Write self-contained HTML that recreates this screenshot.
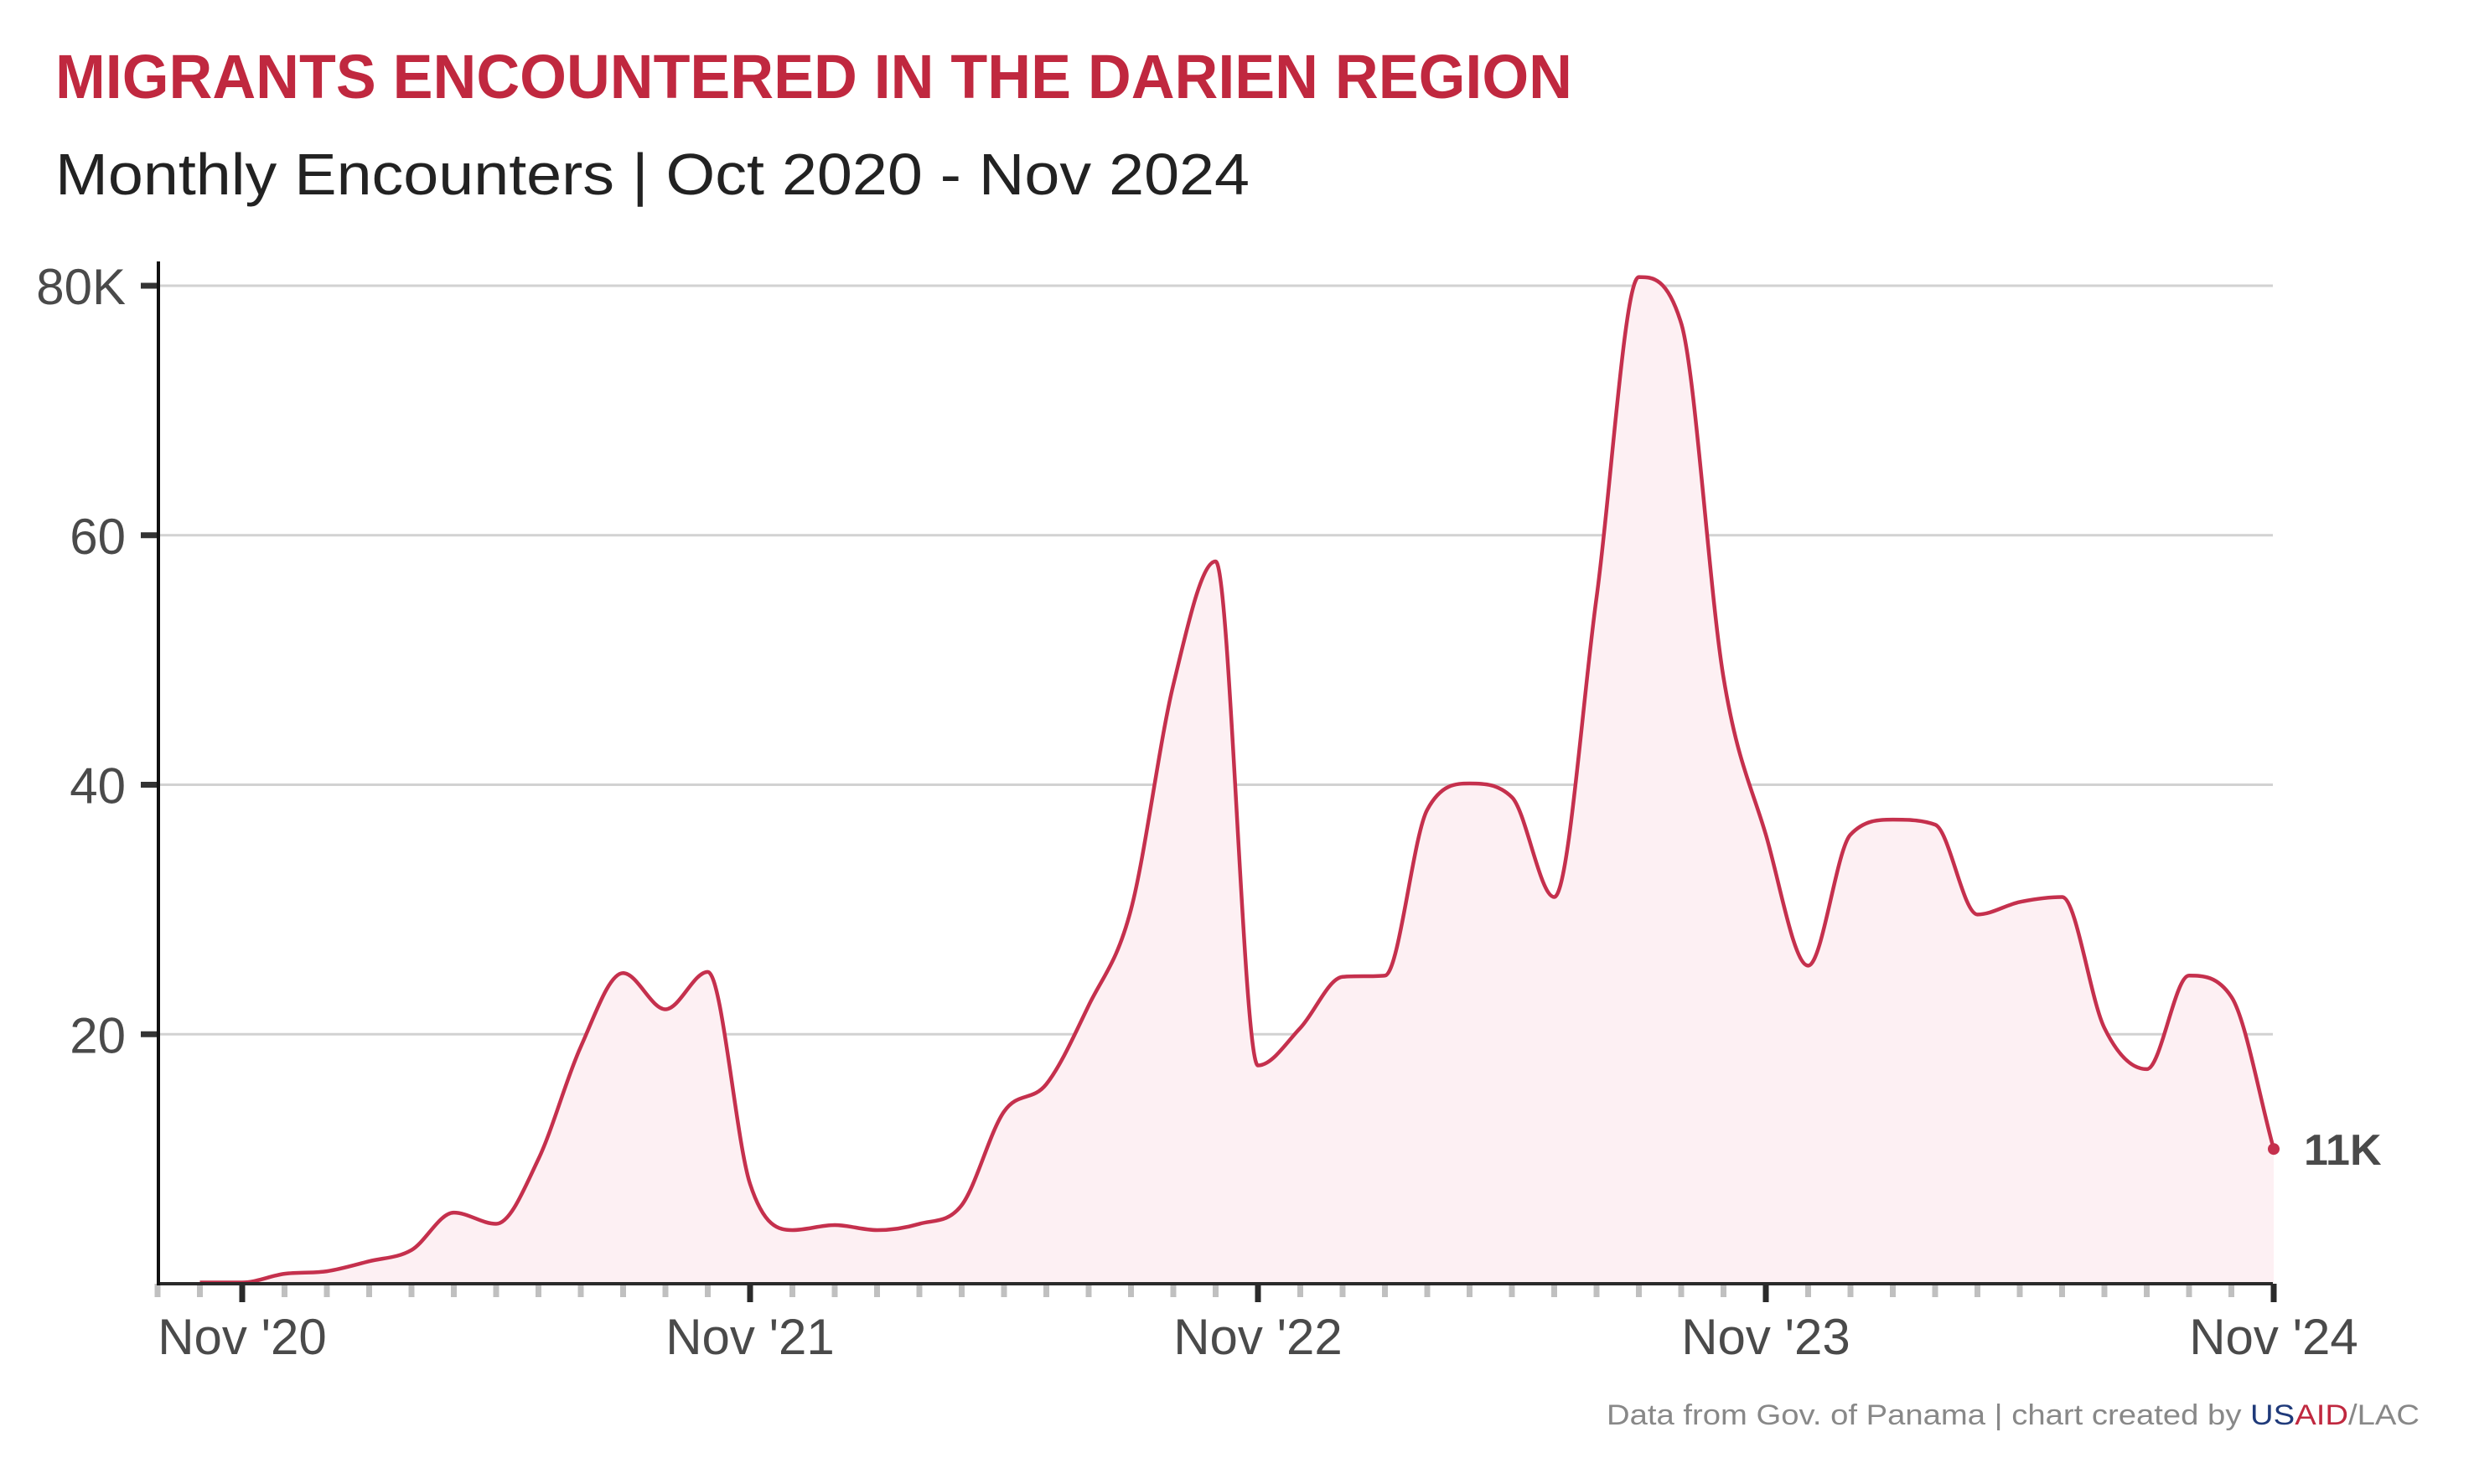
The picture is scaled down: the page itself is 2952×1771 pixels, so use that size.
<!DOCTYPE html>
<html><head><meta charset="utf-8"><style>
html,body{margin:0;padding:0;background:#fff;}
svg{display:block;font-family:"Liberation Sans",sans-serif;}
</style></head><body>
<svg id="chart" width="2952" height="1771" viewBox="0 0 2952 1771" xmlns="http://www.w3.org/2000/svg">
<text x="66" y="117" font-size="74" font-weight="bold" fill="#c0283f" textLength="1810" lengthAdjust="spacingAndGlyphs">MIGRANTS ENCOUNTERED IN THE DARIEN REGION</text>
<text x="66" y="232" font-size="70" fill="#222" textLength="1425" lengthAdjust="spacingAndGlyphs">Monthly Encounters | Oct 2020 - Nov 2024</text>
<g id="grid"></g>
<path id="area" fill="#fdf0f3" stroke="none"></path>
<path id="line" fill="none" stroke="#c5304d" stroke-width="4.5" stroke-linejoin="round"></path>
<g id="yticks"></g>
<g id="xaxis"></g>
<line x1="189" y1="312" x2="189" y2="1534" stroke="#111" stroke-width="4"/>
<circle id="enddot" r="7" fill="#c5304d"></circle>
<text id="endlabel" font-size="52" font-weight="bold" fill="#4a4a4a"></text>
<text x="2887" y="1700" text-anchor="end" font-size="34" fill="#888" textLength="970" lengthAdjust="spacingAndGlyphs">Data from Gov. of Panama | chart created by <tspan fill="#1f3a7a">US</tspan><tspan fill="#c0283f">AID</tspan>/LAC</text>
</svg>
<script>
const months = ["Oct20","Nov20","Dec20","Jan21","Feb21","Mar21","Apr21","May21","Jun21","Jul21","Aug21","Sep21","Oct21","Nov21","Dec21","Jan22","Feb22","Mar22","Apr22","May22","Jun22","Jul22","Aug22","Sep22","Oct22","Nov22","Dec22","Jan23","Feb23","Mar23","Apr23","May23","Jun23","Jul23","Aug23","Sep23","Oct23","Nov23","Dec23","Jan24","Feb24","Mar24","Apr24","May24","Jun24","Jul24","Aug24","Sep24","Oct24","Nov24"];
const encounters = [0.1,0.1,0.8,1.0,1.8,2.7,5.7,4.8,10.0,19.0,24.9,22.0,25.0,8.0,4.3,4.7,4.3,4.8,6.3,13.8,16.0,22.3,30.0,48.0,57.9,17.5,20.5,24.6,24.7,38.0,40.1,39.0,31.0,55.0,80.7,77.0,48.6,36.0,25.5,36.0,37.2,36.8,29.6,30.6,31.0,20.5,17.2,24.7,23.0,10.8];
const yTicks = [20,40,60,80];
const yTickLabels = ["20","40","60","80K"];
const xTickLabels = ["Nov '20","Nov '21","Nov '22","Nov '23","Nov '24"];
const endLabel = "11K";

const X0 = 238.5, MW = 50.5, Y0 = 1532, YPX = 297.75/20;
const xs = i => X0 + i*MW;
const ys = v => Y0 - v*YPX;
const NS = "http://www.w3.org/2000/svg";
function mk(tag, attrs, parent){const e=document.createElementNS(NS,tag);for(const k in attrs)e.setAttribute(k,attrs[k]);parent.appendChild(e);return e;}

const grid=document.getElementById('grid'), yt=document.getElementById('yticks'), xa=document.getElementById('xaxis');
yTicks.forEach((v,i)=>{
  const l=mk('line',{x1:189,x2:2712,y1:ys(v),y2:ys(v),stroke:'#d2d2d2','stroke-width':3},grid);
  
  
  const t=mk('line',{x1:168,x2:189,y1:ys(v),y2:ys(v),stroke:'#333','stroke-width':7},yt);
  
  
  const tx=mk('text',{x:150,y:ys(v)+22,'text-anchor':'end','font-size':60,fill:'#4a4a4a'},yt);
  tx.textContent=yTickLabels[i];
  
  
});

// monotone cubic (monotoneX)
const px = encounters.map((v,i)=>xs(i)), py = encounters.map(v=>ys(v));
const n = px.length, m = new Array(n), dk = [];
for(let i=0;i<n-1;i++) dk.push((py[i+1]-py[i])/(px[i+1]-px[i]));
m[0]=dk[0]; m[n-1]=dk[n-2];
for(let i=1;i<n-1;i++){
  if(dk[i-1]*dk[i]<=0) m[i]=0;
  else { m[i]=(dk[i-1]+dk[i])/2; const a=m[i]/dk[i-1], b=m[i]/dk[i], s=a*a+b*b; if(s>9){const t=3/Math.sqrt(s); m[i]=t*a*dk[i-1];} }
}
let d = `M${px[0]},${py[0]}`;
for(let i=0;i<n-1;i++){
  const h=(px[i+1]-px[i])/3;
  d+=` C${px[i]+h},${py[i]+m[i]*h} ${px[i+1]-h},${py[i+1]-m[i+1]*h} ${px[i+1]},${py[i+1]}`;
}
document.getElementById('line').setAttribute('d',d);
document.getElementById('area').setAttribute('d',d+` L${px[n-1]},${Y0} L${px[0]},${Y0} Z`);

// x axis
for(let i=-1;i<months.length;i++){
  const isNov = i>=1 && (i-1)%12===0;
  const t=mk('line',{x1:xs(i),x2:xs(i),y1:Y0,y2:isNov?Y0+22:Y0+16,stroke:isNov?'#2a2a2a':'#c0c0c0','stroke-width':isNov?7:7},xa);
  
  
}
const base=mk('line',{x1:189,x2:2712,y1:Y0,y2:Y0,stroke:'#2a2a2a','stroke-width':4},xa);


xTickLabels.forEach((s,k)=>{
  const tx=mk('text',{x:xs(1+12*k),y:1616,'text-anchor':'middle','font-size':60,fill:'#4a4a4a'},xa);
  tx.textContent=s;
  
  
});

const dot=document.getElementById('enddot');
dot.setAttribute('cx',px[n-1]);dot.setAttribute('cy',py[n-1]);
const el=document.getElementById('endlabel');
el.setAttribute('x',px[n-1]+36);el.setAttribute('y',py[n-1]+19);
el.textContent=endLabel;
</script>
</body></html>
